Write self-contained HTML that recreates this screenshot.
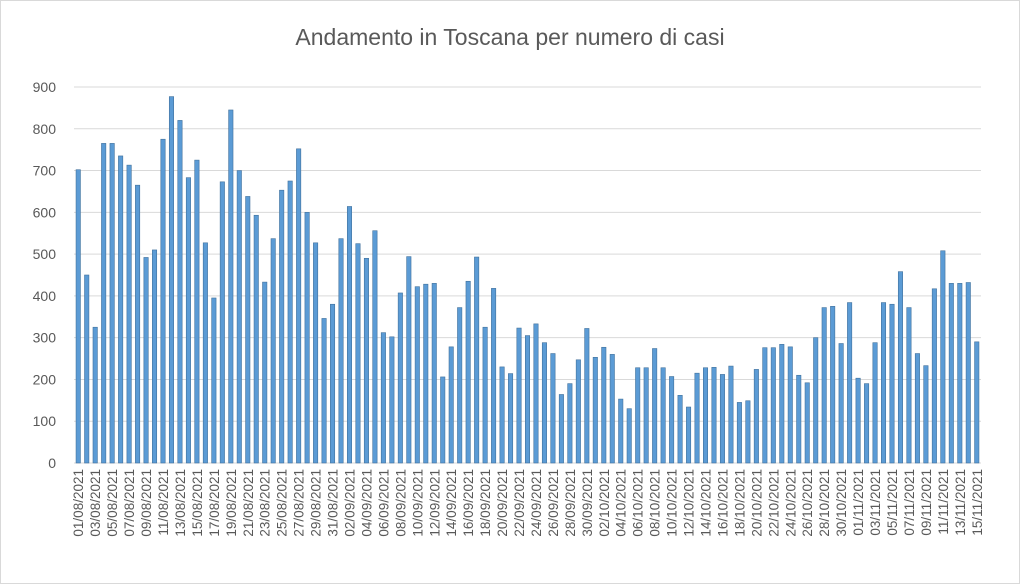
<!DOCTYPE html>
<html><head><meta charset="utf-8"><style>
body{margin:0;background:#fff;}
svg{display:block;font-family:"Liberation Sans",sans-serif;}
</style></head><body>
<svg id="chart" width="1020" height="584">
<rect x="0.5" y="0.5" width="1019" height="583" fill="#fff" stroke="#d9d9d9"/>
<text x="510" y="45" text-anchor="middle" font-size="23" fill="#595959">Andamento in Toscana per numero di casi</text>
<g id="grid"></g><g id="bars"></g><g id="xlabels"></g>
</svg>
<script>
const yTicks=[0,100,200,300,400,500,600,700,800,900];
const values=[702,450,325,765,765,735,713,665,492,510,775,877,820,683,725,527,395,673,845,700,638,593,433,537,653,675,752,600,527,346,380,537,614,525,490,556,312,302,407,494,422,428,430,206,278,372,435,493,325,418,230,214,323,305,333,288,262,164,190,247,322,253,277,260,153,130,228,228,274,228,207,162,134,215,228,229,212,232,145,149,224,276,276,284,278,210,192,300,372,375,286,384,203,190,288,384,380,458,372,262,233,417,508,430,430,432,290];
const start=new Date(2021,7,1);
const categories=values.map((v,i)=>{const d=new Date(start.getTime()+i*86400000);return String(d.getDate()).padStart(2,'0')+'/'+String(d.getMonth()+1).padStart(2,'0')+'/'+d.getFullYear();});
const NS='http://www.w3.org/2000/svg';
const x0=74,x1=981,yBase=463,yTop=87,yMax=900;
const slot=(x1-x0)/values.length;
const y=v=>yBase-(v/yMax)*(yBase-yTop);
const xc=i=>x0+slot*(i+0.5);
const grid=document.getElementById('grid');
yTicks.forEach(t=>{
 const l=document.createElementNS(NS,'line');
 
 
 l.setAttribute('x1',x0);l.setAttribute('x2',x1);l.setAttribute('y1',y(t));l.setAttribute('y2',y(t));
 l.setAttribute('stroke','#d9d9d9');l.setAttribute('stroke-width','1');
 grid.appendChild(l);
 const tx=document.createElementNS(NS,'text');
 
 
 tx.setAttribute('x',56);tx.setAttribute('y',y(t)+5);tx.setAttribute('text-anchor','end');
 tx.setAttribute('font-size','14');tx.setAttribute('fill','#595959');tx.textContent=t;
 grid.appendChild(tx);
});
const bars=document.getElementById('bars');
values.forEach((v,i)=>{
 const r=document.createElementNS(NS,'rect');
 
 
 r.setAttribute('x',xc(i)-2.2);r.setAttribute('width',4.4);
 r.setAttribute('y',y(v));r.setAttribute('height',yBase-y(v));
 r.setAttribute('fill','#5b9bd5');r.setAttribute('stroke','#41719c');r.setAttribute('stroke-width','0.6');
 bars.appendChild(r);
});
const xl=document.getElementById('xlabels');
categories.forEach((c,i)=>{
 if(i%2) return;
 const t=document.createElementNS(NS,'text');
 
 
 const xx=xc(i)+5,yy=469;
 t.setAttribute('x',xx);t.setAttribute('y',yy);
 t.setAttribute('transform','rotate(-90 '+xx+' '+yy+')');
 t.setAttribute('text-anchor','end');t.setAttribute('font-size','13.5');t.setAttribute('fill','#595959');
 t.textContent=c;xl.appendChild(t);
});
</script>
</body></html>
